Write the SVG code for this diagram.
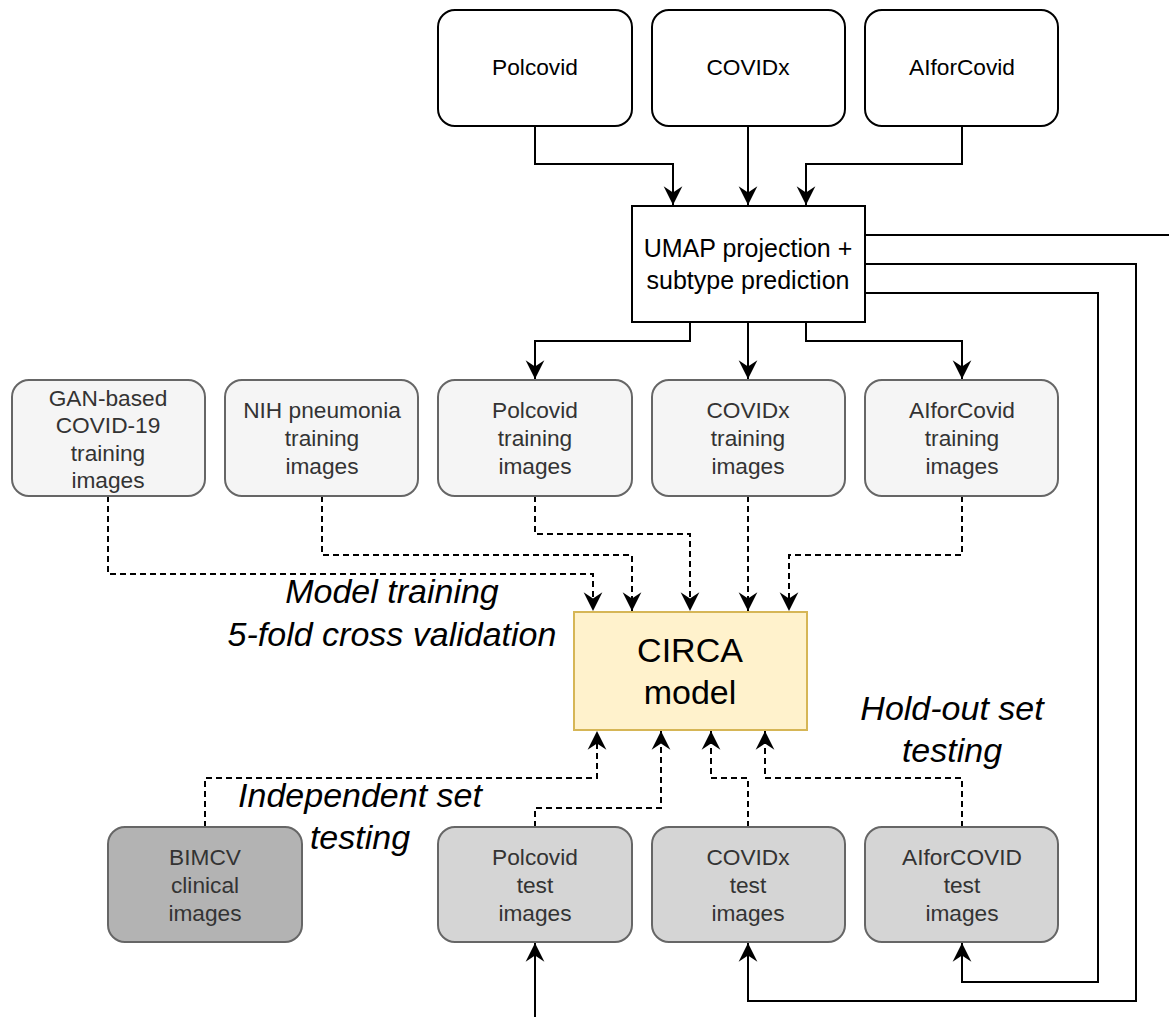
<svg xmlns="http://www.w3.org/2000/svg" width="1169" height="1017" viewBox="0 0 1169 1017">
<style>
text{font-family:"Liberation Sans",Arial,sans-serif;text-anchor:middle}
.src rect{fill:#fff;stroke:#000;stroke-width:2}
.src text{font-size:22.7px;fill:#000}
.train rect{fill:#f5f5f5;stroke:#666;stroke-width:2}
.test rect{fill:#d5d5d5;stroke:#666;stroke-width:2}
.ext rect{fill:#b3b3b3;stroke:#666;stroke-width:2}
.train text,.test text,.ext text{font-size:22.7px;fill:#333}
.lbl{font-size:34px;font-style:italic;fill:#000}
.c{fill:none;stroke:#000;stroke-width:2}
.d{fill:none;stroke:#000;stroke-width:2;stroke-dasharray:6 4}
</style>
<defs>
<marker id="ah" markerUnits="userSpaceOnUse" markerWidth="20" markerHeight="20" viewBox="-15 -8 16 16" refX="0" refY="0" orient="auto">
<path d="M0,0 L-15,-7.5 L-10,0 L-15,7.5 Z" fill="#000"/>
</marker>
</defs>

<g id="connectors">
<path class="c" d="M535,126 V164 H673 V205" marker-end="url(#ah)"/>
<path class="c" d="M748,126 V205" marker-end="url(#ah)"/>
<path class="c" d="M962,126 V164 H806 V205" marker-end="url(#ah)"/>
<path class="c" d="M690,322 V341 H535 V379" marker-end="url(#ah)"/>
<path class="c" d="M748,322 V379" marker-end="url(#ah)"/>
<path class="c" d="M806,322 V341 H962 V379" marker-end="url(#ah)"/>
<path class="c" d="M865,235 H1169"/>
<path class="c" d="M865,264 H1136 V1001 H748 V943" marker-end="url(#ah)"/>
<path class="c" d="M865,293 H1098 V982 H962 V943" marker-end="url(#ah)"/>
<path class="c" d="M535,1017 V943" marker-end="url(#ah)"/>
<path class="d" d="M108,496 V574 H593 V611" marker-end="url(#ah)"/>
<path class="d" d="M322,496 V555 H632 V611" marker-end="url(#ah)"/>
<path class="d" d="M535,496 V534 H690 V611" marker-end="url(#ah)"/>
<path class="d" d="M748,496 V611" marker-end="url(#ah)"/>
<path class="d" d="M962,496 V555 H789 V611" marker-end="url(#ah)"/>
<path class="d" d="M205,827 V778 H597 V731" marker-end="url(#ah)"/>
<path class="d" d="M535,827 V808 H661 V731" marker-end="url(#ah)"/>
<path class="d" d="M748,827 V778 H711 V731" marker-end="url(#ah)"/>
<path class="d" d="M962,827 V778 H765 V731" marker-end="url(#ah)"/>
</g>

<g id="polcovid" class="src"><rect x="438" y="10" width="194" height="116" rx="17"/><text x="535" y="75">Polcovid</text></g>
<g id="covidx" class="src"><rect x="652" y="10" width="193" height="116" rx="17"/><text x="748" y="75">COVIDx</text></g>
<g id="aiforcovid" class="src"><rect x="865" y="10" width="193" height="116" rx="17"/><text x="962" y="75">AIforCovid</text></g>

<g id="umap"><rect x="632" y="206" width="233" height="116" fill="#fff" stroke="#000" stroke-width="2"/>
<text x="748" y="257" font-size="25px">UMAP projection +</text><text x="748" y="289" font-size="25px">subtype prediction</text></g>

<g id="gan" class="train"><rect x="12" y="380" width="193" height="116" rx="17"/>
<text x="108" y="406">GAN-based</text><text x="108" y="433">COVID-19</text><text x="108" y="461">training</text><text x="108" y="488">images</text></g>
<g id="nih" class="train"><rect x="225" y="380" width="193" height="116" rx="17"/>
<text x="322" y="418">NIH pneumonia</text><text x="322" y="446">training</text><text x="322" y="474">images</text></g>
<g id="polcovid-train" class="train"><rect x="438" y="380" width="194" height="116" rx="17"/>
<text x="535" y="418">Polcovid</text><text x="535" y="446">training</text><text x="535" y="474">images</text></g>
<g id="covidx-train" class="train"><rect x="652" y="380" width="193" height="116" rx="17"/>
<text x="748" y="418">COVIDx</text><text x="748" y="446">training</text><text x="748" y="474">images</text></g>
<g id="aiforcovid-train" class="train"><rect x="865" y="380" width="193" height="116" rx="17"/>
<text x="962" y="418">AIforCovid</text><text x="962" y="446">training</text><text x="962" y="474">images</text></g>

<g id="circa"><rect x="574" y="612" width="233" height="118" fill="#fff2cc" stroke="#d6b656" stroke-width="2"/>
<text x="690" y="662" font-size="34px">CIRCA</text><text x="690" y="704" font-size="34px">model</text></g>

<g id="bimcv" class="ext"><rect x="108" y="827" width="194" height="115" rx="17"/>
<text x="205" y="865">BIMCV</text><text x="205" y="893">clinical</text><text x="205" y="921">images</text></g>
<g id="polcovid-test" class="test"><rect x="438" y="827" width="194" height="115" rx="17"/>
<text x="535" y="865">Polcovid</text><text x="535" y="893">test</text><text x="535" y="921">images</text></g>
<g id="covidx-test" class="test"><rect x="652" y="827" width="193" height="115" rx="17"/>
<text x="748" y="865">COVIDx</text><text x="748" y="893">test</text><text x="748" y="921">images</text></g>
<g id="aiforcovid-test" class="test"><rect x="865" y="827" width="193" height="115" rx="17"/>
<text x="962" y="865">AIforCOVID</text><text x="962" y="893">test</text><text x="962" y="921">images</text></g>

<g id="labels">
<text class="lbl" x="392" y="603">Model training</text>
<text class="lbl" x="392" y="646">5-fold cross validation</text>
<text class="lbl" x="952" y="720">Hold-out set</text>
<text class="lbl" x="952" y="762">testing</text>
<text class="lbl" x="360" y="807">Independent set</text>
<text class="lbl" x="360" y="849">testing</text>
</g>
</svg>
